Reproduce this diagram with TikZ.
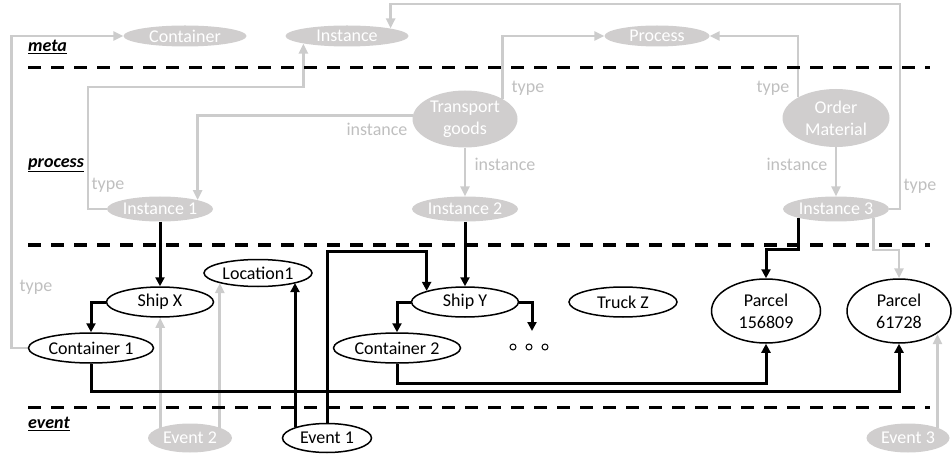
\documentclass[tikz,border=0pt]{standalone}
\usepackage{fontspec}
\setmainfont{Carlito}
\usetikzlibrary{shapes.geometric, arrows.meta, positioning, backgrounds}
\definecolor{nodegray}{RGB}{208,206,206}
\definecolor{linegray}{RGB}{204,204,204}
\definecolor{textgray}{RGB}{191,191,191}

\begin{document}
\begin{tikzpicture}[x=1pt, y=-1pt,
  every node/.style={font=\fontsize{18}{22}\selectfont},
  metanode/.style={ellipse, fill=nodegray, text=white, inner xsep=-10pt, inner ysep=-6pt, align=center},
  objnode/.style={ellipse, draw, line width=1.5pt, fill=white, inner xsep=-10pt, inner ysep=-6pt, align=center},
  edgelabel/.style={text=textgray, inner sep=0pt},
  layerlabel/.style={font=\fontsize{18}{22}\selectfont\bfseries\itshape, anchor=west, inner sep=0pt},
  grayarrow/.style={draw=linegray, line width=2.8pt, -{Triangle[length=10pt,width=9pt]}},
  blackarrow/.style={draw=black, line width=3pt, -{Triangle[length=9pt,width=9pt]}}
]
\useasboundingbox (0,0) rectangle (952,454);

% Layer separators (dashed), set down at 68, 245 and 407
\foreach \y in {68,245,407}
{
    \draw[line width=3pt, dash pattern=on 13pt off 10pt] (28,\y) -- (930,\y);
}

% Layer names
\node[layerlabel] (meta) at (28,47) {\underline{meta}};
\node[layerlabel] (proc) at (28,165) {\underline{process}};
\node[layerlabel] (evt) at (28,424) {\underline{event}};

% Meta layer (grey)
\node[metanode, minimum width=123, minimum height=21] (container) at (185,36) {Container};
\node[metanode, minimum width=123, minimum height=21] (instance) at (347,36) {Instance};
\node[metanode, minimum width=105, minimum height=21] (process) at (657,36) {Process};

% Process layer (grey)
\node[metanode, minimum width=105, minimum height=57] (transport) at (465,119) {Transport\\goods};
\node[metanode, minimum width=107, minimum height=58] (order) at (836,118) {Order\\Material};
\node[metanode, minimum width=106, minimum height=25] (inst1) at (160,209) {Instance 1};
\node[metanode, minimum width=106, minimum height=25] (inst2) at (465,209) {Instance 2};
\node[metanode, minimum width=106, minimum height=25] (inst3) at (836,209) {Instance 3};

% Object layer
\node[objnode, minimum width=108, minimum height=27] (location) at (258,273) {Location1};
\node[objnode, minimum width=107, minimum height=30] (shipx) at (160,302) {Ship X};
\node[objnode, minimum width=125, minimum height=30] (cont1) at (91,348) {Container 1};
\node[objnode, minimum width=107, minimum height=30] (shipy) at (465,302) {Ship Y};
\node[objnode, minimum width=127, minimum height=30] (cont2) at (397,348) {Container 2};
\node[objnode, minimum width=108, minimum height=30] (truck) at (623,302) {Truck Z};
\node[objnode, minimum width=109, minimum height=64] (parcel1) at (766,311) {Parcel\\156809};
\node[objnode, minimum width=104, minimum height=64] (parcel2) at (899,311) {Parcel\\61728};

% More objects (three small circles)
\coordinate (more) at (532,331);
\foreach \x in {513,529,545}
{
    \draw[line width=1pt] (\x,347) circle (3);
}

% Event layer
\node[metanode, minimum width=84, minimum height=29] (event2) at (190,438) {Event 2};
\node[objnode, minimum width=89, minimum height=29] (event1) at (327,438) {Event 1};
\node[metanode, minimum width=83, minimum height=29] (event3) at (908,438) {Event 3};

% Edge labels
\node[edgelabel] (type1) at (36,287) {type};
\node[edgelabel] (type2) at (108,185) {type};
\node[edgelabel] (inst-a) at (377,129) {instance};
\node[edgelabel] (inst-b) at (505,164) {instance};
\node[edgelabel] (type3) at (528,88) {type};
\node[edgelabel] (type4) at (773,88) {type};
\node[edgelabel] (inst-c) at (797,164) {instance};
\node[edgelabel] (type5) at (920,186) {type};

\begin{scope}[on background layer]
% Grey links (type / instance)
\draw[grayarrow] (cont1.west) -- ++(-16,0) |- (container.west);
\draw[grayarrow] (inst1.west) -| (88,87) -| (instance.south west);
\draw[grayarrow] (transport.176) -| (inst1.north east);
\draw[grayarrow] (transport.south) -- (inst2.north);
\draw[grayarrow] (transport.north east) |- (process.west);
\draw[grayarrow] (order.north west) |- (process.east);
\draw[grayarrow] (order.south) -- (inst3.north);
\draw[grayarrow] (inst3.east) -| (900,4) -| (instance.north east);
\draw[grayarrow] (inst3.south east) -- ++(0,32) -| (parcel2.north);
\draw[grayarrow] (event2.north west) -- (event2.north west |- shipx.south);
\draw[grayarrow] (event2.north east) -- (event2.north east |- location.south west);
\draw[grayarrow] (event3.north east) -- (event3.north east |- parcel2.south east);

% Black links
\draw[blackarrow] (inst1.south) -- (shipx.north);
\draw[blackarrow] (inst2.south) -- (shipy.north);
\draw[blackarrow] (inst3.south west) -- ++(0,32) -| (parcel1.north);
\draw[blackarrow] (shipx.west) -| (cont1.north);
\draw[blackarrow] (shipy.west) -| (cont2.north);
\draw[blackarrow] (shipy.east) -| (more);
\draw[blackarrow] (cont1.south) -- ++(0,28) -| (parcel2.south);
\draw[blackarrow] (cont2.south) -- ++(0,20) -| (parcel1.south);
\draw[blackarrow] (event1.north west) -- (event1.north west |- location.south east);
\draw[blackarrow] (event1.north) -- ++(0,-171) -| (shipy.north west);
\end{scope}

\end{tikzpicture}
\end{document}
